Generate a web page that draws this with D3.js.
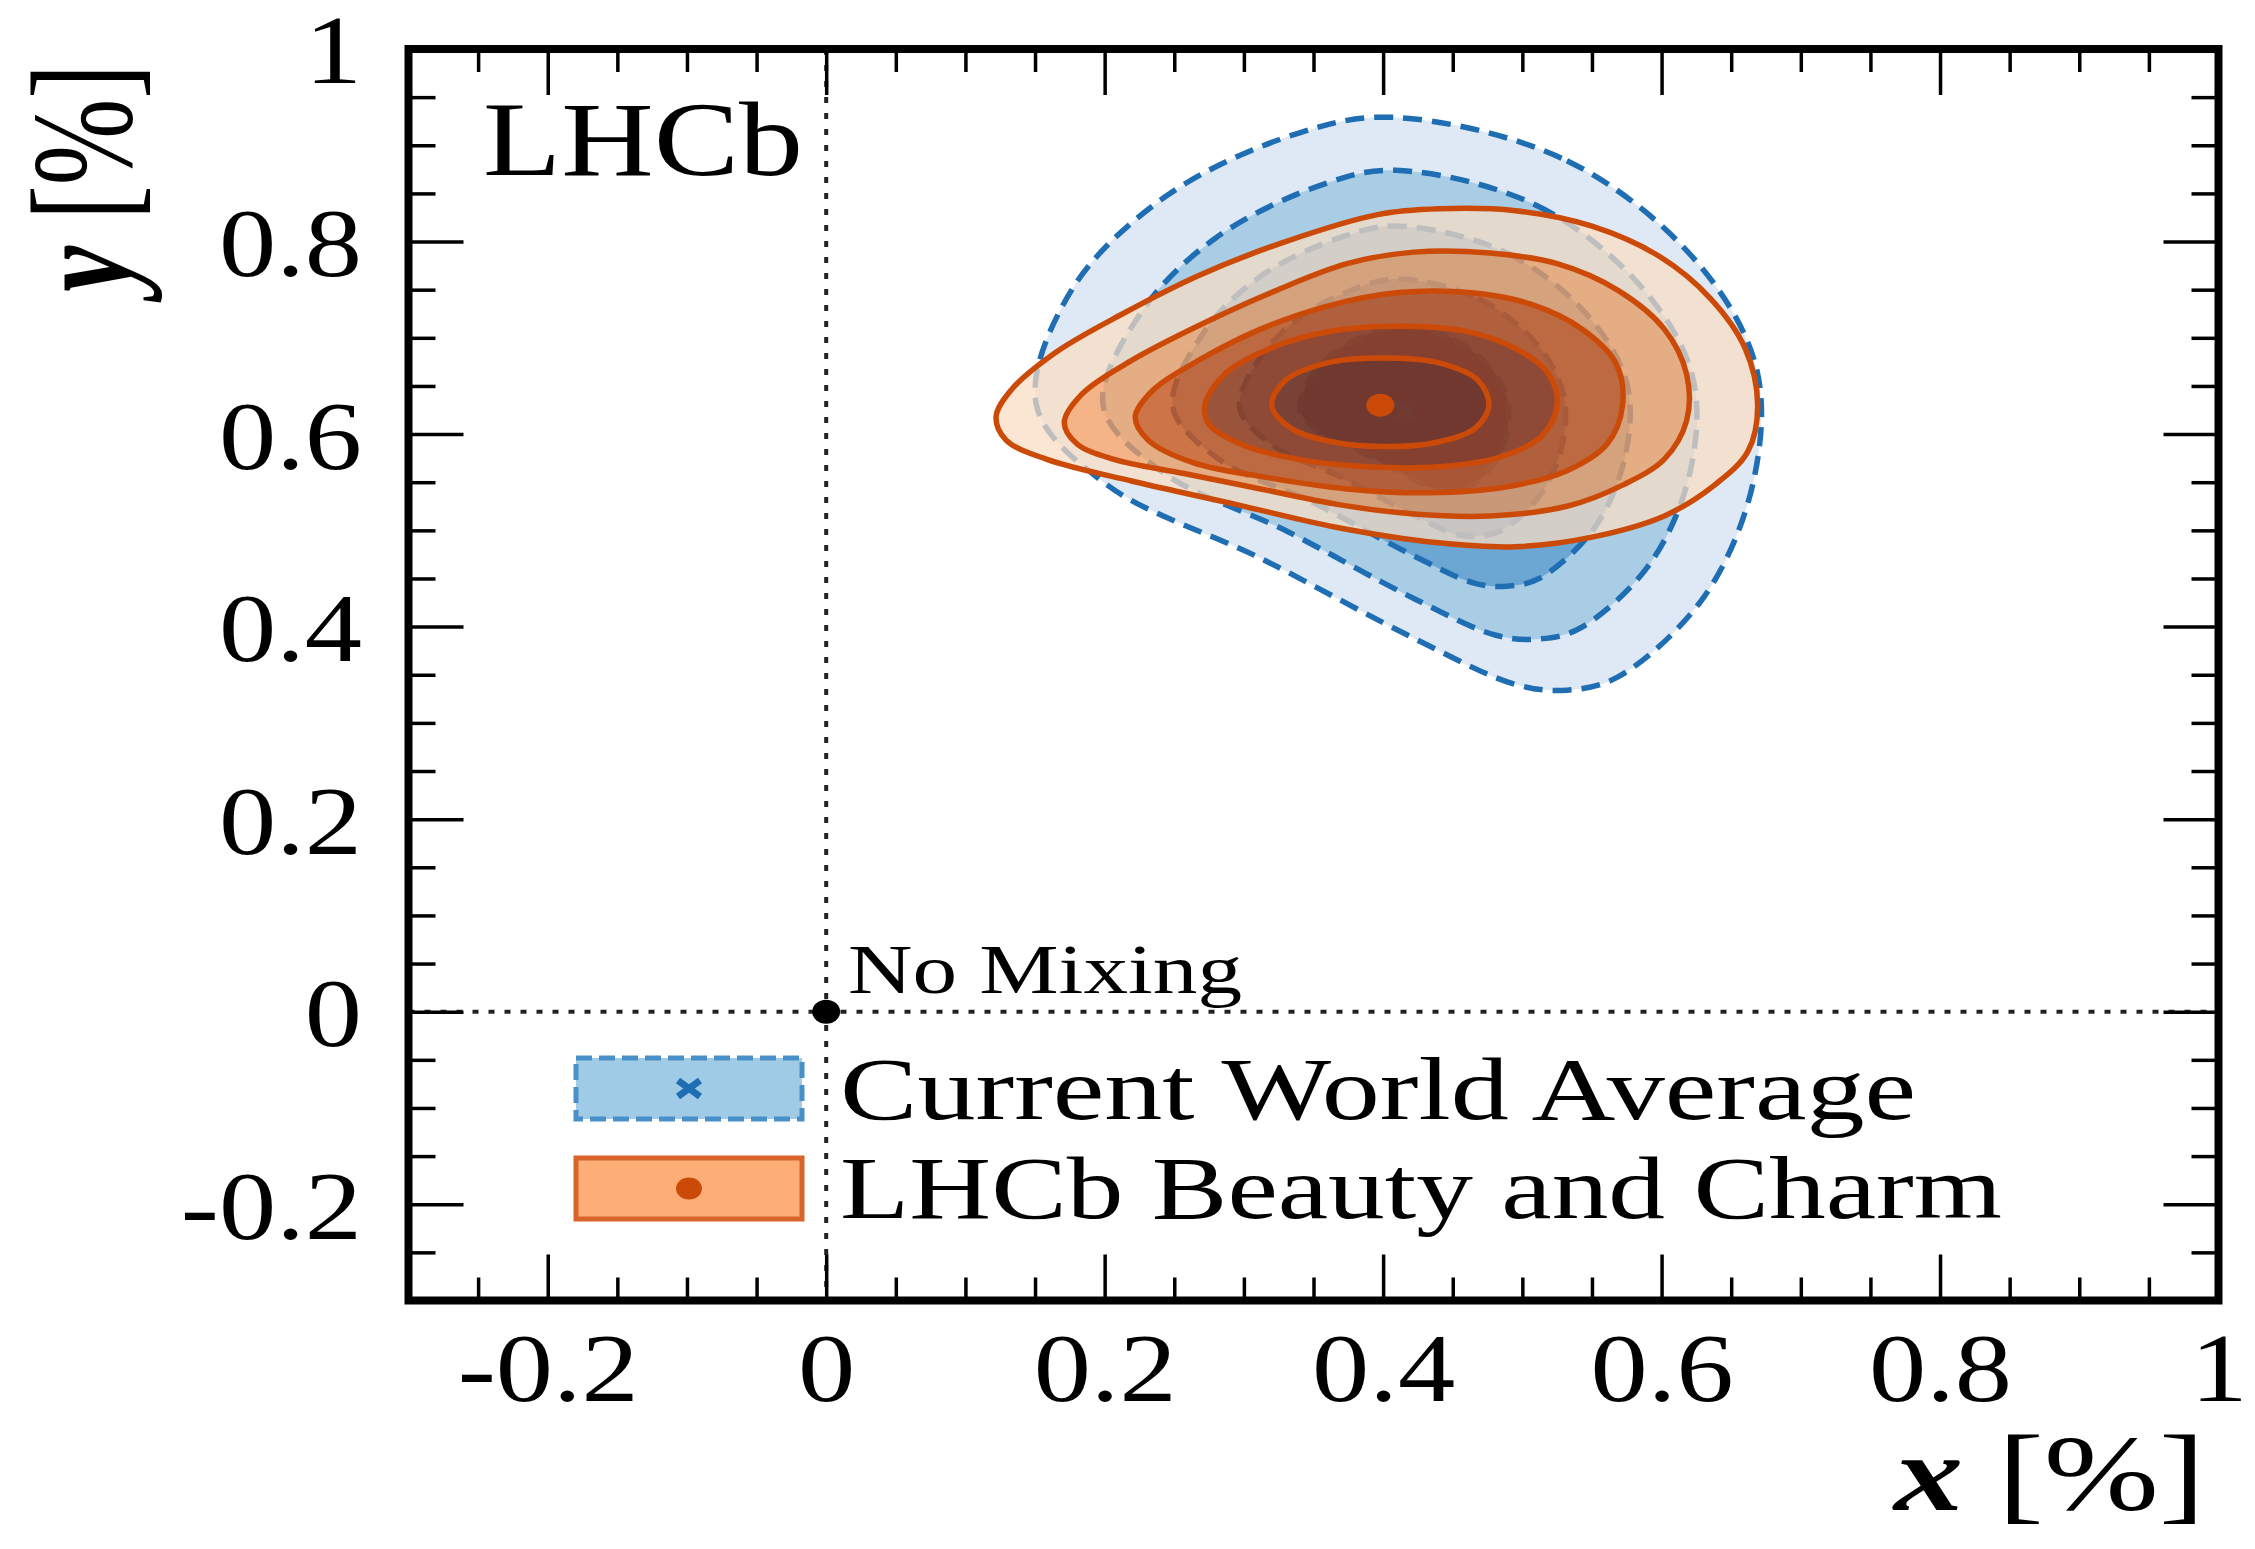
<!DOCTYPE html>
<html><head><meta charset="utf-8">
<script src="https://cdn.jsdelivr.net/npm/d3@7"></script>
<style>
html,body{margin:0;padding:0;background:#fff;}
svg{display:block;}
text{font-family:"Liberation Serif","Times New Roman",serif;fill:#000;}
</style></head><body>
<svg id="chart" width="2255" height="1549"></svg>
<script>
// ---------------- data ----------------
const xTickValues = [-0.2, 0, 0.2, 0.4, 0.6, 0.8, 1.0];
const xTickLabels = ["-0.2", "0", "0.2", "0.4", "0.6", "0.8", "1"];
const yTickValues = [-0.2, 0, 0.2, 0.4, 0.6, 0.8, 1.0];
const yTickLabels = ["-0.2", "0", "0.2", "0.4", "0.6", "0.8", "1"];

// Current World Average contours (outermost -> innermost), [x, y] in %
const wa5 = [[0.407,0.929],[0.532,0.884],[0.624,0.781],[0.668,0.669],[0.666,0.551],[0.631,0.432],[0.569,0.348],[0.532,0.334],[0.495,0.340],[0.422,0.388],[0.312,0.471],[0.202,0.547],[0.151,0.630],[0.176,0.749],[0.245,0.848],[0.340,0.913]];
const wa4 = [[0.409,0.874],[0.511,0.837],[0.586,0.752],[0.622,0.661],[0.621,0.564],[0.592,0.466],[0.541,0.398],[0.511,0.387],[0.481,0.391],[0.421,0.430],[0.331,0.499],[0.241,0.561],[0.199,0.629],[0.226,0.726],[0.280,0.804],[0.358,0.860]];
const wa3 = [[0.411,0.816],[0.489,0.788],[0.547,0.723],[0.575,0.653],[0.574,0.578],[0.552,0.503],[0.512,0.450],[0.489,0.442],[0.466,0.445],[0.420,0.475],[0.351,0.528],[0.281,0.575],[0.249,0.628],[0.270,0.703],[0.311,0.763],[0.371,0.805]];
const wa2 = [[0.412,0.761],[0.468,0.741],[0.510,0.694],[0.529,0.644],[0.529,0.591],[0.513,0.537],[0.485,0.500],[0.468,0.494],[0.452,0.496],[0.419,0.518],[0.370,0.555],[0.320,0.589],[0.297,0.627],[0.312,0.680],[0.342,0.723],[0.384,0.753]];
const wa1 = [[0.414,0.712],[0.450,0.699],[0.477,0.669],[0.489,0.637],[0.489,0.603],[0.479,0.568],[0.461,0.544],[0.450,0.540],[0.439,0.542],[0.418,0.556],[0.386,0.580],[0.354,0.602],[0.340,0.626],[0.349,0.660],[0.368,0.688],[0.396,0.707]];
const waCenter = [0.416, 0.624];

// LHCb Beauty and Charm contours (outermost -> innermost)
const lhcb5 = [[0.122,0.618],[0.133,0.646],[0.165,0.685],[0.213,0.725],[0.268,0.765],[0.330,0.800],[0.396,0.828],[0.440,0.834],[0.495,0.832],[0.550,0.816],[0.598,0.785],[0.635,0.741],[0.660,0.689],[0.669,0.630],[0.662,0.582],[0.638,0.547],[0.602,0.515],[0.550,0.493],[0.495,0.483],[0.440,0.487],[0.367,0.503],[0.294,0.527],[0.220,0.551],[0.158,0.574],[0.129,0.594]];
const lhcb4 = [[0.171,0.612],[0.184,0.642],[0.220,0.677],[0.268,0.713],[0.323,0.749],[0.374,0.777],[0.422,0.789],[0.477,0.788],[0.525,0.777],[0.569,0.749],[0.602,0.709],[0.618,0.662],[0.618,0.614],[0.602,0.574],[0.572,0.547],[0.532,0.525],[0.477,0.515],[0.422,0.517],[0.367,0.527],[0.312,0.543],[0.257,0.559],[0.206,0.574],[0.180,0.590]];
const lhcb3 = [[0.222,0.618],[0.235,0.646],[0.268,0.677],[0.312,0.709],[0.360,0.733],[0.411,0.747],[0.462,0.747],[0.506,0.735],[0.543,0.709],[0.567,0.674],[0.572,0.630],[0.561,0.590],[0.532,0.562],[0.488,0.545],[0.433,0.539],[0.374,0.543],[0.316,0.555],[0.264,0.570],[0.231,0.594]];
const lhcb2 = [[0.272,0.630],[0.286,0.662],[0.319,0.689],[0.363,0.707],[0.411,0.712],[0.459,0.707],[0.495,0.689],[0.519,0.662],[0.525,0.630],[0.514,0.598],[0.484,0.576],[0.440,0.566],[0.389,0.566],[0.338,0.574],[0.297,0.590],[0.275,0.610]];
const lhcb1 = [[0.320,0.630],[0.330,0.656],[0.360,0.674],[0.400,0.679],[0.440,0.674],[0.468,0.656],[0.476,0.630],[0.466,0.606],[0.437,0.591],[0.400,0.587],[0.363,0.592],[0.334,0.606]];
const lhcbCenter = [0.398, 0.630];
const noMixing = [0, 0];

const legendLabels = ["Current World Average", "LHCb Beauty and Charm"];

// ---------------- styles ----------------
const waFill = ["#dee9f5", "#a8cde5", "#6ca6d2", "#3f80bf", "#1f5fa6"];
const lhcbFill = ["rgb(250,221,194)", "rgb(252,160,95)", "rgb(219,83,12)", "rgb(171,54,3)", "rgb(143,42,3)"];
const blueLine = "#1f6db3", orangeLine = "#cc4a08";

// ---------------- layout ----------------
const M = {left: 408.5, right: 2218.5, top: 49, bottom: 1300.5};
const x = d3.scaleLinear().domain([-0.3, 1.0]).range([M.left, M.right]);
const y = d3.scaleLinear().domain([-0.3, 1.0]).range([M.bottom, M.top]);
const svg = d3.select("#chart");
svg.append("rect").attr("width", 2255).attr("height", 1549).attr("fill", "#fff");

const line = d3.line().x(d => x(d[0])).y(d => y(d[1])).curve(d3.curveCatmullRomClosed.alpha(0.5));

// world average fills + dashed contours
const waContours = [wa5, wa4, wa3, wa2, wa1];
svg.append("g").selectAll("path").data(waContours).join("path")
  .attr("d", line).attr("fill", (d, i) => waFill[i]);
svg.append("g").selectAll("path").data(waContours).join("path")
  .attr("d", line).attr("fill", "none").attr("stroke", blueLine)
  .attr("stroke-width", 5.5).attr("stroke-dasharray", "19,10");

function crossPath(cx, cy, hw, hh) {
  return `M${cx-hw},${cy-hh}L${cx+hw},${cy+hh}M${cx-hw},${cy+hh}L${cx+hw},${cy-hh}`;
}
svg.append("path").attr("d", crossPath(x(waCenter[0]), y(waCenter[1]), 11, 9))
  .attr("stroke", blueLine).attr("stroke-width", 7).attr("fill", "none");

// LHCb bands
const lhcbContours = [lhcb5, lhcb4, lhcb3, lhcb2, lhcb1];
svg.append("g").selectAll("path").data(lhcbContours).join("path")
  .attr("d", (d, i) => line(d) + (i < lhcbContours.length - 1 ? line(lhcbContours[i + 1]) : ""))
  .attr("fill-rule", "evenodd").attr("fill", (d, i) => lhcbFill[i]).attr("fill-opacity", 0.73);
svg.append("g").selectAll("path").data(lhcbContours).join("path")
  .attr("d", line).attr("fill", "none").attr("stroke", orangeLine).attr("stroke-width", 5.5);
svg.append("ellipse").attr("cx", x(lhcbCenter[0])).attr("cy", y(lhcbCenter[1]))
  .attr("rx", 14).attr("ry", 11.5).attr("fill", orangeLine);

// dotted zero lines
svg.append("line").attr("x1", x(0)).attr("x2", x(0)).attr("y1", M.top).attr("y2", M.bottom)
  .attr("stroke", "#222").attr("stroke-width", 4).attr("stroke-dasharray", "6,10");
svg.append("line").attr("x1", M.left).attr("x2", M.right).attr("y1", y(0)).attr("y2", y(0))
  .attr("stroke", "#222").attr("stroke-width", 4).attr("stroke-dasharray", "6,10");
svg.append("ellipse").attr("cx", x(noMixing[0])).attr("cy", y(noMixing[1]))
  .attr("rx", 14).attr("ry", 12).attr("fill", "#000");
svg.append("text").attr("x", 848).attr("y", 993).attr("font-size", 70)
  .attr("textLength", 394).attr("lengthAdjust", "spacingAndGlyphs").text("No Mixing");

// LHCb label
svg.append("text").attr("x", 483).attr("y", 175).attr("font-size", 106)
  .attr("textLength", 320).attr("lengthAdjust", "spacingAndGlyphs").text("LHCb");

// legend
const lg = svg.append("g");
lg.append("rect").attr("x", 576).attr("y", 1058).attr("width", 226).attr("height", 61)
  .attr("fill", "#a0cbe6").attr("stroke", "#4a90c8").attr("stroke-width", 5).attr("stroke-dasharray", "16,7");
lg.append("path").attr("d", crossPath(689, 1088.5, 11, 8)).attr("stroke", blueLine)
  .attr("stroke-width", 7).attr("fill", "none");
lg.append("rect").attr("x", 576).attr("y", 1158).attr("width", 226).attr("height", 61)
  .attr("fill", "#fcae76").attr("stroke", "#d8642c").attr("stroke-width", 5);
lg.append("ellipse").attr("cx", 689).attr("cy", 1188.5).attr("rx", 13).attr("ry", 11).attr("fill", orangeLine);
lg.append("text").attr("x", 840).attr("y", 1119).attr("font-size", 88)
  .attr("textLength", 1076).attr("lengthAdjust", "spacingAndGlyphs").text(legendLabels[0]);
lg.append("text").attr("x", 840).attr("y", 1218).attr("font-size", 88)
  .attr("textLength", 1162).attr("lengthAdjust", "spacingAndGlyphs").text(legendLabels[1]);

// ---------------- axes ----------------
const xMinor = d3.range(-0.25, 1.0, 0.05).map(v => +v.toFixed(2)).filter(v => !xTickValues.some(t => Math.abs(t - v) < 1e-6));
const yMinor = d3.range(-0.25, 1.0, 0.05).map(v => +v.toFixed(2)).filter(v => !yTickValues.some(t => Math.abs(t - v) < 1e-6));

function clean(g) {
  g.attr("font-family", null).attr("font-size", null);
  g.select(".domain").remove();
  g.selectAll(".tick line").attr("stroke", "#000").attr("stroke-width", 3.5);
}
// bottom
svg.append("g").attr("transform", `translate(0,${M.bottom})`)
  .call(d3.axisBottom(x).tickValues(xTickValues).tickSize(-46).tickFormat((d, i) => xTickLabels[i]))
  .call(clean)
  .call(g => g.selectAll(".tick text").attr("dy", null).attr("y", 100.5).attr("font-size", 97)
    .attr("fill", "#000").attr("transform", "scale(1.18,1)"));
svg.append("g").attr("transform", `translate(0,${M.bottom})`)
  .call(d3.axisBottom(x).tickValues(xMinor).tickSize(-23).tickFormat("")).call(clean);
// top
svg.append("g").attr("transform", `translate(0,${M.top})`)
  .call(d3.axisTop(x).tickValues(xTickValues).tickSize(-46).tickFormat("")).call(clean);
svg.append("g").attr("transform", `translate(0,${M.top})`)
  .call(d3.axisTop(x).tickValues(xMinor).tickSize(-23).tickFormat("")).call(clean);
// left
svg.append("g").attr("transform", `translate(${M.left},0)`)
  .call(d3.axisLeft(y).tickValues(yTickValues).tickSize(-55).tickFormat((d, i) => yTickLabels[i]))
  .call(clean)
  .call(g => g.selectAll(".tick text").attr("x", 0).attr("dy", "0.35em").attr("font-size", 97)
    .attr("fill", "#000").attr("text-anchor", "end").attr("transform", "translate(-46.5,0) scale(1.18,1)"));
svg.append("g").attr("transform", `translate(${M.left},0)`)
  .call(d3.axisLeft(y).tickValues(yMinor).tickSize(-27).tickFormat("")).call(clean);
// right
svg.append("g").attr("transform", `translate(${M.right},0)`)
  .call(d3.axisRight(y).tickValues(yTickValues).tickSize(-55).tickFormat("")).call(clean);
svg.append("g").attr("transform", `translate(${M.right},0)`)
  .call(d3.axisRight(y).tickValues(yMinor).tickSize(-27).tickFormat("")).call(clean);

// frame
svg.append("rect").attr("x", M.left).attr("y", M.top).attr("width", M.right - M.left)
  .attr("height", M.bottom - M.top).attr("fill", "none").attr("stroke", "#000").attr("stroke-width", 8);

// axis titles
const xt = svg.append("text").attr("text-anchor", "end").attr("font-size", 108)
  .attr("transform", "translate(2205,1510) scale(1.28,1)");
xt.append("tspan").attr("font-weight", "bold").attr("font-style", "italic").text("x");
xt.append("tspan").text(" [%]");
const yt = svg.append("text").attr("text-anchor", "end").attr("font-size", 104)
  .attr("transform", "translate(131,64) rotate(-90) scale(1,1.38)");
yt.append("tspan").attr("font-weight", "bold").attr("font-style", "italic").text("y");
yt.append("tspan").text(" [%]");
</script>
</body></html>
